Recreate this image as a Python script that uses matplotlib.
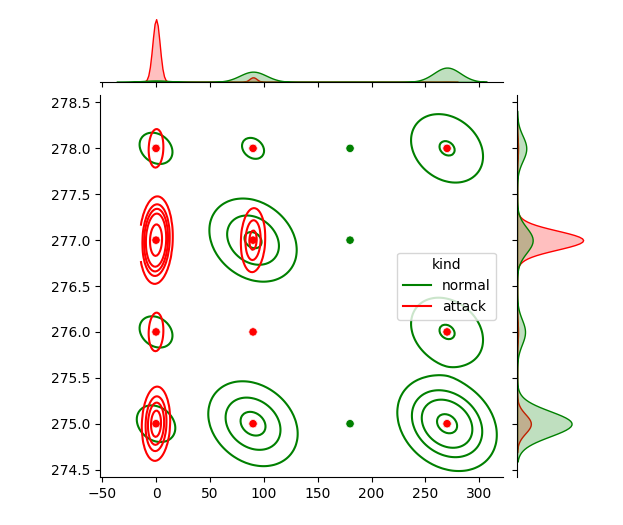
import numpy as np
import pandas as pd
import matplotlib
matplotlib.use("Agg")
import matplotlib.pyplot as plt
import seaborn as sns

## Grid cells (x, y) and how many rows of each kind sit in them
cell_x = [0, 0, 0, 0, 90, 90, 90, 90, 180, 180, 180, 270, 270, 270]
cell_y = [275, 276, 277, 278, 275, 276, 277, 278, 275, 277, 278, 275, 276, 278]
normal_counts = [60, 52, 0, 52, 609, 0, 541, 42, 1, 1, 1, 1217, 225, 225]
attack_counts = [357, 21, 1600, 21, 5, 5, 132, 5, 0, 0, 0, 1, 1, 1]

kinds = ["normal", "attack"]
palette = {"normal": "green", "attack": "red"}


def _rows(kind, counts):
    return pd.DataFrame({
        "x": np.repeat(cell_x, counts),
        "y": np.repeat(cell_y, counts),
        "kind": kind,
    })


df = pd.concat([_rows("normal", normal_counts), _rows("attack", attack_counts)],
               ignore_index=True)

g = sns.JointGrid(data=df, x="x", y="y", hue="kind", hue_order=kinds,
                  palette=palette, height=6)
g.plot_joint(sns.kdeplot, bw_adjust=0.68, levels=6, thresh=0.065)
g.plot_joint(sns.scatterplot, legend=False)
g.plot_marginals(sns.kdeplot, fill=True, bw_adjust=0.63)
g.set_axis_labels("", "")
sns.move_legend(g.ax_joint, "center right")

fig = g.figure
fig.set_size_inches(6.23, 5.25)
fig.subplots_adjust(left=0.1605, right=0.9414, bottom=0.0914, top=0.9695,
                    hspace=0.2, wspace=0.2)
fig.savefig("out.png", dpi=100)
